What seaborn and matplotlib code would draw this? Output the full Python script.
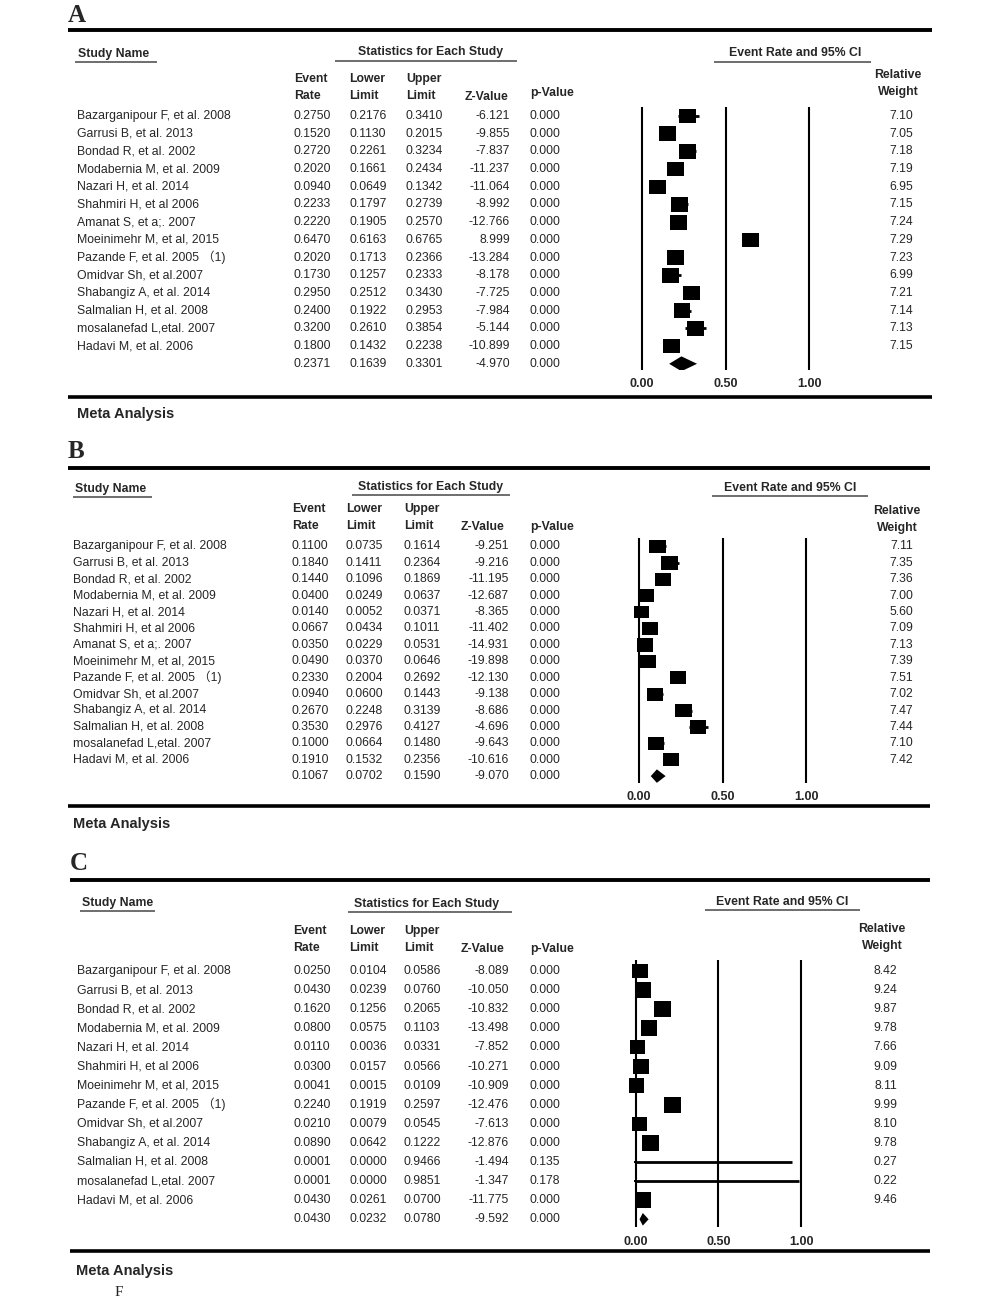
import numpy as np
import pandas as pd
import matplotlib
matplotlib.use("Agg")
import matplotlib.pyplot as plt
import seaborn as sns
from matplotlib.transforms import blended_transform_factory

# ---------------------------------------------------------------- data
names_ab = ["Bazarganipour F, et al. 2008", "Garrusi B, et al. 2013", "Bondad R, et al. 2002",
            "Modabernia M, et al. 2009", "Nazari H, et al. 2014", "Shahmiri H, et al 2006",
            "Amanat S, et a;. 2007", "Moeinimehr M, et al, 2015", "Pazande F, et al. 2005 \uff081)",
            "Omidvar Sh, et al.2007", "Shabangiz A, et al. 2014", "Salmalian H, et al. 2008",
            "mosalanefad L,etal. 2007", "Hadavi M, et al. 2006"]
names_c = ["Bazarganipour F, et al. 2008", "Garrusi B, et al. 2013", "Bondad R, et al. 2002",
           "Modabernia M, et al. 2009", "Nazari H, et al. 2014", "Shahmiri H, et al 2006",
           "Moeinimehr M, et al, 2015", "Pazande F, et al. 2005 \uff081)", "Omidvar Sh, et al.2007",
           "Shabangiz A, et al. 2014", "Salmalian H, et al. 2008", "mosalanefad L,etal. 2007",
           "Hadavi M, et al. 2006"]

a_rate = [0.2750, 0.1520, 0.2720, 0.2020, 0.0940, 0.2233, 0.2220, 0.6470, 0.2020, 0.1730, 0.2950, 0.2400, 0.3200, 0.1800]
a_lower = [0.2176, 0.1130, 0.2261, 0.1661, 0.0649, 0.1797, 0.1905, 0.6163, 0.1713, 0.1257, 0.2512, 0.1922, 0.2610, 0.1432]
a_upper = [0.3410, 0.2015, 0.3234, 0.2434, 0.1342, 0.2739, 0.2570, 0.6765, 0.2366, 0.2333, 0.3430, 0.2953, 0.3854, 0.2238]
a_z = [-6.121, -9.855, -7.837, -11.237, -11.064, -8.992, -12.766, 8.999, -13.284, -8.178, -7.725, -7.984, -5.144, -10.899]
a_p = [0.000] * 14
a_weight = [7.10, 7.05, 7.18, 7.19, 6.95, 7.15, 7.24, 7.29, 7.23, 6.99, 7.21, 7.14, 7.13, 7.15]
a_summary = [0.2371, 0.1639, 0.3301, -4.970, 0.000]

b_rate = [0.1100, 0.1840, 0.1440, 0.0400, 0.0140, 0.0667, 0.0350, 0.0490, 0.2330, 0.0940, 0.2670, 0.3530, 0.1000, 0.1910]
b_lower = [0.0735, 0.1411, 0.1096, 0.0249, 0.0052, 0.0434, 0.0229, 0.0370, 0.2004, 0.0600, 0.2248, 0.2976, 0.0664, 0.1532]
b_upper = [0.1614, 0.2364, 0.1869, 0.0637, 0.0371, 0.1011, 0.0531, 0.0646, 0.2692, 0.1443, 0.3139, 0.4127, 0.1480, 0.2356]
b_z = [-9.251, -9.216, -11.195, -12.687, -8.365, -11.402, -14.931, -19.898, -12.130, -9.138, -8.686, -4.696, -9.643, -10.616]
b_p = [0.000] * 14
b_weight = [7.11, 7.35, 7.36, 7.00, 5.60, 7.09, 7.13, 7.39, 7.51, 7.02, 7.47, 7.44, 7.10, 7.42]
b_summary = [0.1067, 0.0702, 0.1590, -9.070, 0.000]

c_rate = [0.0250, 0.0430, 0.1620, 0.0800, 0.0110, 0.0300, 0.0041, 0.2240, 0.0210, 0.0890, 0.0001, 0.0001, 0.0430]
c_lower = [0.0104, 0.0239, 0.1256, 0.0575, 0.0036, 0.0157, 0.0015, 0.1919, 0.0079, 0.0642, 0.0000, 0.0000, 0.0261]
c_upper = [0.0586, 0.0760, 0.2065, 0.1103, 0.0331, 0.0566, 0.0109, 0.2597, 0.0545, 0.1222, 0.9466, 0.9851, 0.0700]
c_z = [-8.089, -10.050, -10.832, -13.498, -7.852, -10.271, -10.909, -12.476, -7.613, -12.876, -1.494, -1.347, -11.775]
c_p = [0.000] * 10 + [0.135, 0.178, 0.000]
c_weight = [8.42, 9.24, 9.87, 9.78, 7.66, 9.09, 8.11, 9.99, 8.10, 9.78, 0.27, 0.22, 9.46]
c_summary = [0.0430, 0.0232, 0.0780, -9.592, 0.000]

ticks = [0.0, 0.5, 1.0]
tick_labels = ["0.00", "0.50", "1.00"]

# ---------------------------------------------------------------- layout (pixels)
def heads(ev, lo, up, zv, pv, rw, y1, y2, yz, yp, ry1, ry2):
    return [("Event", ev, y1, "left"), ("Rate", ev, y2, "left"),
            ("Lower", lo, y1, "left"), ("Limit", lo, y2, "left"),
            ("Upper", up, y1, "left"), ("Limit", up, y2, "left"),
            ("Z-Value", zv, yz, "left"), ("p-Value", pv, yp, "left"),
            ("Relative", rw, ry1, "center"), ("Weight", rw, ry2, "center")]

lay_a = dict(letter="A", letter_xy=(68, 15), rule_x=(68, 932), top=30, bottom=397,
             study=(78, 54), study_ul=(75, 157, 62),
             stats=(431, 52), stats_ul=(335, 517, 61),
             ci=(795, 53), ci_ul=(714, 871, 62),
             heads=heads(294, 349, 406, 465, 530, 898, 79, 96, 97, 93, 75, 92),
             cols=dict(name=77, rate=294, lower=349, upper=406, z=510, p=530, w=913),
             row0=116, dy=17.7, forest=(641.7, 809.3, 107, 370), tick_y=384,
             diamond_h=0.42, sq_w=17, sq_aspect=1.15, meta=(77, 414))
lay_b = dict(letter="B", letter_xy=(68, 452), rule_x=(68, 930), top=468, bottom=806,
             study=(75, 489), study_ul=(73, 152, 497),
             stats=(431, 487), stats_ul=(352, 510, 495),
             ci=(790, 488), ci_ul=(712, 868, 496),
             heads=heads(292, 346, 404, 461, 530, 897, 509, 526, 527, 527, 511, 528),
             cols=dict(name=73, rate=292, lower=346, upper=404, z=509, p=530, w=913),
             row0=546.5, dy=16.4, forest=(639, 806.4, 538, 783), tick_y=797,
             diamond_h=0.41, sq_w=16.8, sq_aspect=1.24, meta=(73, 824))
lay_c = dict(letter="C", letter_xy=(70, 863), rule_x=(70, 930), top=880, bottom=1251,
             study=(82, 903), study_ul=(80, 155, 911),
             stats=(427, 904), stats_ul=(348, 512, 912),
             ci=(782, 902), ci_ul=(705, 860, 910),
             heads=heads(293, 349, 404, 461, 530, 882, 931, 948, 949, 949, 929, 946),
             cols=dict(name=77, rate=293, lower=349, upper=404, z=509, p=530, w=897),
             row0=971, dy=19.1, forest=(635.7, 801, 960, 1227), tick_y=1242,
             diamond_h=0.33, sq_w=17, sq_aspect=1.06, meta=(76, 1271))

# ---------------------------------------------------------------- drawing
sns.set_theme(style="white")
plt.rcParams["font.family"] = ["Liberation Sans", "Noto Sans CJK SC", "DejaVu Sans"]

W, H = 1000, 1305
fig = plt.figure(figsize=(W / 100, H / 100), dpi=100)
FS = 8.8


def fx(p):
    return p / W


def fy(p):
    return 1 - p / H


def rule(x1, x2, y, lw, color="black"):
    fig.add_artist(plt.Line2D([fx(x1), fx(x2)], [fy(y), fy(y)], transform=fig.transFigure,
                              lw=lw, color=color, solid_capstyle="butt"))


def panel(names, rate, lower, upper, zval, pval, weight, summary, lay):
    n = len(names)
    fig.text(fx(lay["letter_xy"][0]), fy(lay["letter_xy"][1]), lay["letter"], family="Liberation Serif",
             weight="bold", size=18, ha="left", va="center")
    rule(*lay["rule_x"], lay["top"], 2.8)
    rule(*lay["rule_x"], lay["bottom"], 2.6)

    fig.text(fx(lay["study"][0]), fy(lay["study"][1]), "Study Name", weight="bold", size=FS, va="center")
    rule(*lay["study_ul"], 1.2, "#555555")
    fig.text(fx(lay["stats"][0]), fy(lay["stats"][1]), "Statistics for Each Study", weight="bold",
             size=FS, va="center", ha="center")
    rule(*lay["stats_ul"], 1.2, "#555555")
    fig.text(fx(lay["ci"][0]), fy(lay["ci"][1]), "Event Rate and 95% CI", weight="bold",
             size=FS, va="center", ha="center")
    rule(*lay["ci_ul"], 1.2, "#555555")
    for txt, x, y, ha in lay["heads"]:
        fig.text(fx(x), fy(y), txt, weight="bold", size=FS, ha=ha, va="center")

    # forest axes: spans full width, x in event-rate units, y in row units
    x0, x1, vtop, vbot = lay["forest"]
    scale = x1 - x0
    ax = fig.add_axes([0, fy(vbot), 1, (vbot - vtop) / H])
    rows = np.arange(n)
    ax.hlines(rows, lower, upper, color="black", lw=2, zorder=2)

    df = pd.DataFrame({"rate": rate, "row": rows, "weight": weight})
    wmax = max(weight)
    side_pt = lay["sq_w"] / 100 * 72
    sizes = {w: side_pt ** 2 * w / wmax for w in weight}
    a = lay["sq_aspect"]
    box = [(-a, -1), (a, -1), (a, 1), (-a, 1), (-a, -1)]
    sns.scatterplot(data=df, x="rate", y="row", size="weight", sizes=sizes, marker=box,
                    color="black", edgecolor="none", linewidth=0, legend=False, ax=ax, zorder=3)

    est, lo, hi = summary[0], summary[1], summary[2]
    h = lay["diamond_h"]
    ax.fill([lo, est, hi, est], [n, n - h, n, n + h], color="black", lw=0, zorder=3)

    for t in ticks:
        ax.axvline(t, color="black", lw=1.5, zorder=1)

    ax.set_xlim(-x0 / scale, (W - x0) / scale)
    ax.set_ylim((vbot - lay["row0"]) / lay["dy"], (vtop - lay["row0"]) / lay["dy"])
    ax.set_xticks(ticks)
    ax.set_xticklabels(tick_labels, weight="bold", size=9)
    ax.tick_params(axis="x", length=0, pad=(lay["tick_y"] - vbot - 6) * 0.72)
    ax.set_yticks([])
    ax.set_xlabel("")
    ax.set_ylabel("")
    ax.patch.set_alpha(0)
    for s in ax.spines.values():
        s.set_visible(False)

    # table text on the same rows
    tr = blended_transform_factory(fig.transFigure, ax.transData)
    c = lay["cols"]
    kw = dict(size=FS, va="center", transform=tr)
    for i in range(n + 1):
        if i < n:
            vals = (rate[i], lower[i], upper[i], zval[i], pval[i])
            ax.text(fx(c["name"]), i, names[i], ha="left", **kw)
            ax.text(fx(c["w"]), i, f"{weight[i]:.2f}", ha="right", **kw)
        else:
            vals = summary
        ax.text(fx(c["rate"]), i, f"{vals[0]:.4f}", ha="left", **kw)
        ax.text(fx(c["lower"]), i, f"{vals[1]:.4f}", ha="left", **kw)
        ax.text(fx(c["upper"]), i, f"{vals[2]:.4f}", ha="left", **kw)
        ax.text(fx(c["z"]), i, f"{vals[3]:.3f}", ha="right", **kw)
        ax.text(fx(c["p"]), i, f"{vals[4]:.3f}", ha="left", **kw)

    fig.text(fx(lay["meta"][0]), fy(lay["meta"][1]), "Meta Analysis", weight="bold", size=10.5, va="center")


panel(names_ab, a_rate, a_lower, a_upper, a_z, a_p, a_weight, a_summary, lay_a)
panel(names_ab, b_rate, b_lower, b_upper, b_z, b_p, b_weight, b_summary, lay_b)
panel(names_c, c_rate, c_lower, c_upper, c_z, c_p, c_weight, c_summary, lay_c)

fig.text(fx(119), fy(1293), "F", family="Liberation Serif", size=11, ha="center", va="center")

fig.savefig("out.png", dpi=100, facecolor="white")
